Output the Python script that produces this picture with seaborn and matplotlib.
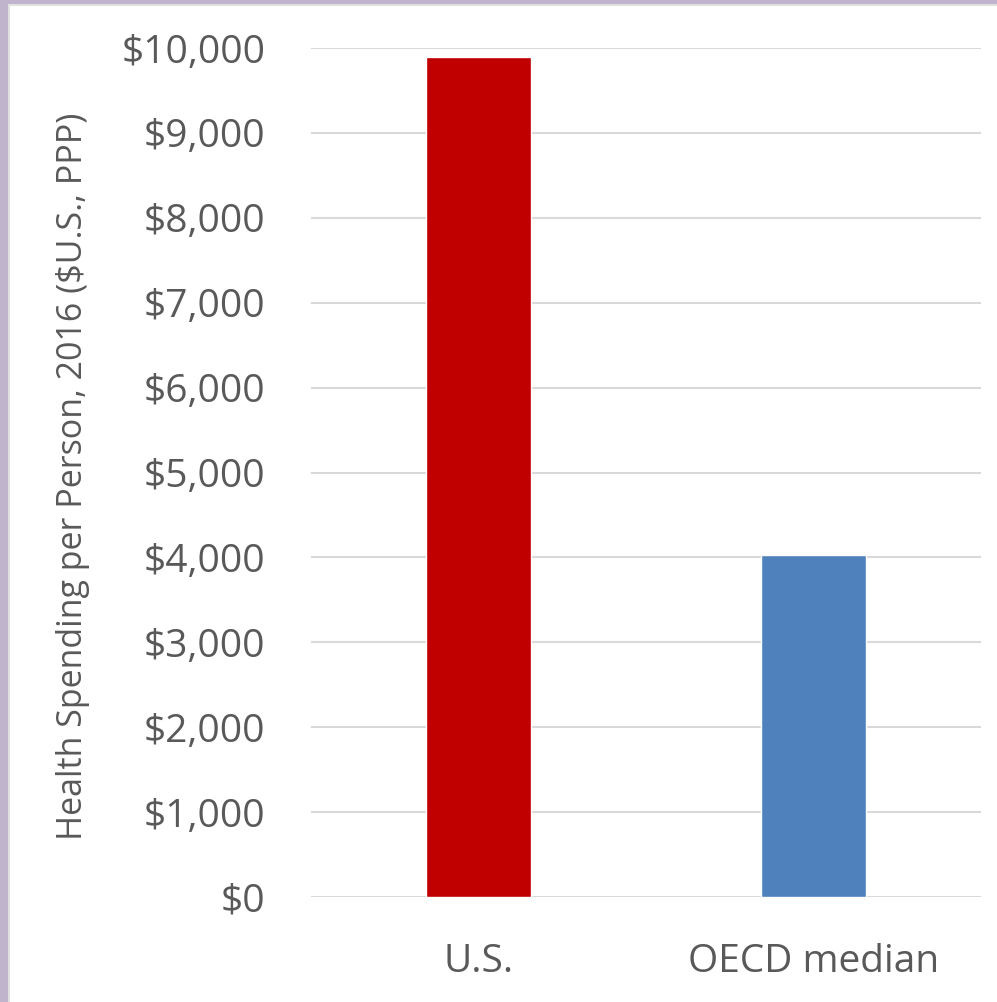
import matplotlib
matplotlib.use("Agg")
import matplotlib.pyplot as plt
import seaborn as sns
import pandas as pd
from matplotlib.patches import Rectangle
from matplotlib.ticker import FuncFormatter

categories = ["U.S.", "OECD median"]
values = [9892, 4033]
colors = ["#C00000", "#4F81BD"]
ytick_values = list(range(0, 10001, 1000))

sns.set_theme(style="white")
plt.rcParams["font.family"] = ["Open Sans", "DejaVu Sans"]

fig = plt.figure(figsize=(9.97, 10.02), dpi=100)
W, H = 997, 1002
ax = fig.add_axes([311 / W, 1 - 897 / H, (981 - 311) / W, (897 - 48) / H])

df = pd.DataFrame({"cat": categories, "val": values})
sns.barplot(data=df, x="cat", y="val", hue="cat", palette=colors, width=0.315,
            legend=False, ax=ax, zorder=3, saturation=1)

ax.set_ylim(0, 10000)
ax.set_yticks(ytick_values)
ax.yaxis.set_major_formatter(FuncFormatter(lambda v, p: f"${int(v):,}"))
ax.grid(axis="y", color="#D9D9D9", linewidth=1.5, zorder=0)
ax.set_axisbelow(True)
for s in ax.spines.values():
    s.set_visible(False)
ax.tick_params(axis="y", length=0, pad=33, labelsize=28, labelcolor="#595959")
ax.tick_params(axis="x", length=0, pad=33, labelsize=28, labelcolor="#595959")
ax.set_xlabel("")
ax.set_ylabel("Health Spending per Person, 2016 ($U.S., PPP)", fontsize=24.5,
              color="#595959")
ax.yaxis.set_label_coords(-(311 - 90) / (981 - 311), 0.496)

# frame strips
fig.patches.append(Rectangle((0, 0), 8 / W, 1, transform=fig.transFigure,
                             facecolor="#C0B4CC", edgecolor="none"))
fig.patches.append(Rectangle((0, 1 - 4 / H), 1, 4 / H, transform=fig.transFigure,
                             facecolor="#C0B4CC", edgecolor="none"))
fig.patches.append(Rectangle((8 / W, 0), 2 / W, 1 - 4 / H, transform=fig.transFigure,
                             facecolor="#E0E0E0", edgecolor="none"))
fig.patches.append(Rectangle((8 / W, 1 - 6 / H), 1, 2 / H, transform=fig.transFigure,
                             facecolor="#E0E0E0", edgecolor="none"))

fig.savefig("out.png", dpi=100)
